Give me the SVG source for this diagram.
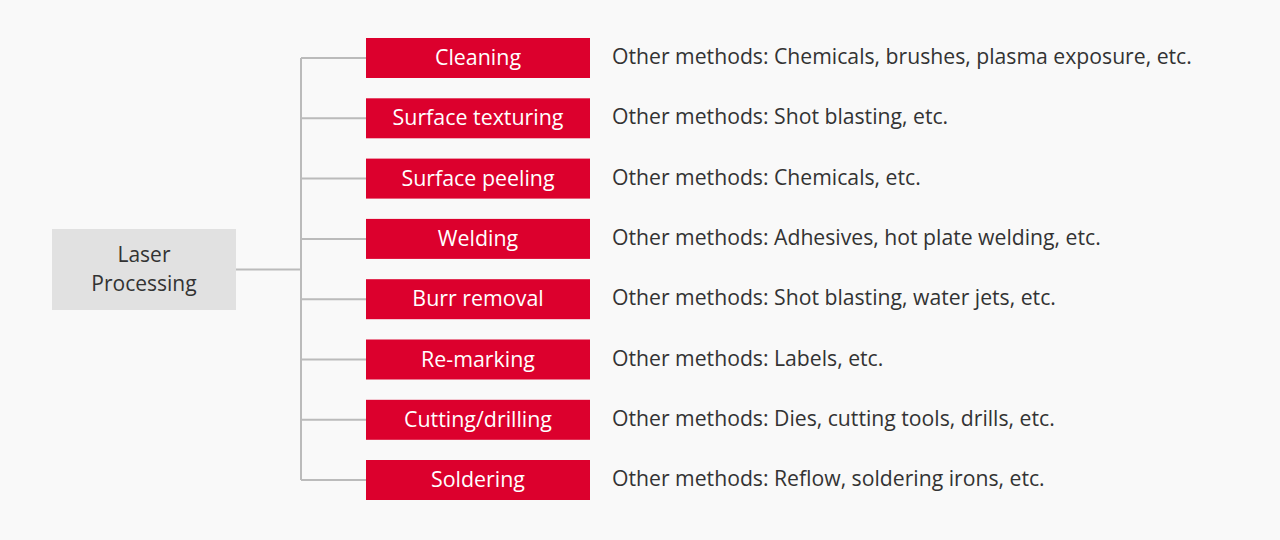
<svg xmlns="http://www.w3.org/2000/svg" width="1280" height="540" viewBox="0 0 1280 540">
<style>
.bg{fill:#f9f9f9}
.root rect{fill:#e1e1e1}
.root text{fill:#333;font-family:"Open Sans","Liberation Sans",sans-serif;font-size:21px;text-anchor:middle}
.item rect{fill:#dc002d}
.item text.l{fill:#fff;font-family:"Open Sans","Liberation Sans",sans-serif;font-size:21.4px;text-anchor:middle}
.item text.d{fill:#333;font-family:"Open Sans","Liberation Sans",sans-serif;font-size:21.2px}
.conn{stroke:#bbb;stroke-width:2;fill:none}
</style>
<rect class="bg" width="1280" height="540"/>
<g id="connectors" class="conn">
<path d="M236 269.5H301M301 58V480M301 58H366M301 118.3H366M301 178.6H366M301 238.9H366M301 299.2H366M301 359.5H366M301 419.8H366M301 480H366"/>
</g>
<g id="laser-processing" class="root">
<rect x="52" y="229" width="184" height="81"/>
<text x="144" y="262">Laser</text>
<text x="144" y="291">Processing</text>
</g>
<g id="cleaning" class="item">
<rect x="366" y="38" width="224" height="40"/>
<text class="l" x="478" y="65">Cleaning</text>
<text class="d" x="612" y="64">Other methods: Chemicals, brushes, plasma exposure, etc.</text>
</g>
<g id="surface-texturing" class="item">
<rect x="366" y="98.3" width="224" height="40"/>
<text class="l" x="478" y="125.3">Surface texturing</text>
<text class="d" x="612" y="124.3">Other methods: Shot blasting, etc.</text>
</g>
<g id="surface-peeling" class="item">
<rect x="366" y="158.6" width="224" height="40"/>
<text class="l" x="478" y="185.6">Surface peeling</text>
<text class="d" x="612" y="184.6">Other methods: Chemicals, etc.</text>
</g>
<g id="welding" class="item">
<rect x="366" y="218.9" width="224" height="40"/>
<text class="l" x="478" y="245.9">Welding</text>
<text class="d" x="612" y="244.9">Other methods: Adhesives, hot plate welding, etc.</text>
</g>
<g id="burr-removal" class="item">
<rect x="366" y="279.2" width="224" height="40"/>
<text class="l" x="478" y="306.2">Burr removal</text>
<text class="d" x="612" y="305.2">Other methods: Shot blasting, water jets, etc.</text>
</g>
<g id="re-marking" class="item">
<rect x="366" y="339.5" width="224" height="40"/>
<text class="l" x="478" y="366.5">Re-marking</text>
<text class="d" x="612" y="365.5">Other methods: Labels, etc.</text>
</g>
<g id="cutting-drilling" class="item">
<rect x="366" y="399.8" width="224" height="40"/>
<text class="l" x="478" y="426.8">Cutting/drilling</text>
<text class="d" x="612" y="425.8">Other methods: Dies, cutting tools, drills, etc.</text>
</g>
<g id="soldering" class="item">
<rect x="366" y="460" width="224" height="40"/>
<text class="l" x="478" y="487">Soldering</text>
<text class="d" x="612" y="486">Other methods: Reflow, soldering irons, etc.</text>
</g>
</svg>
